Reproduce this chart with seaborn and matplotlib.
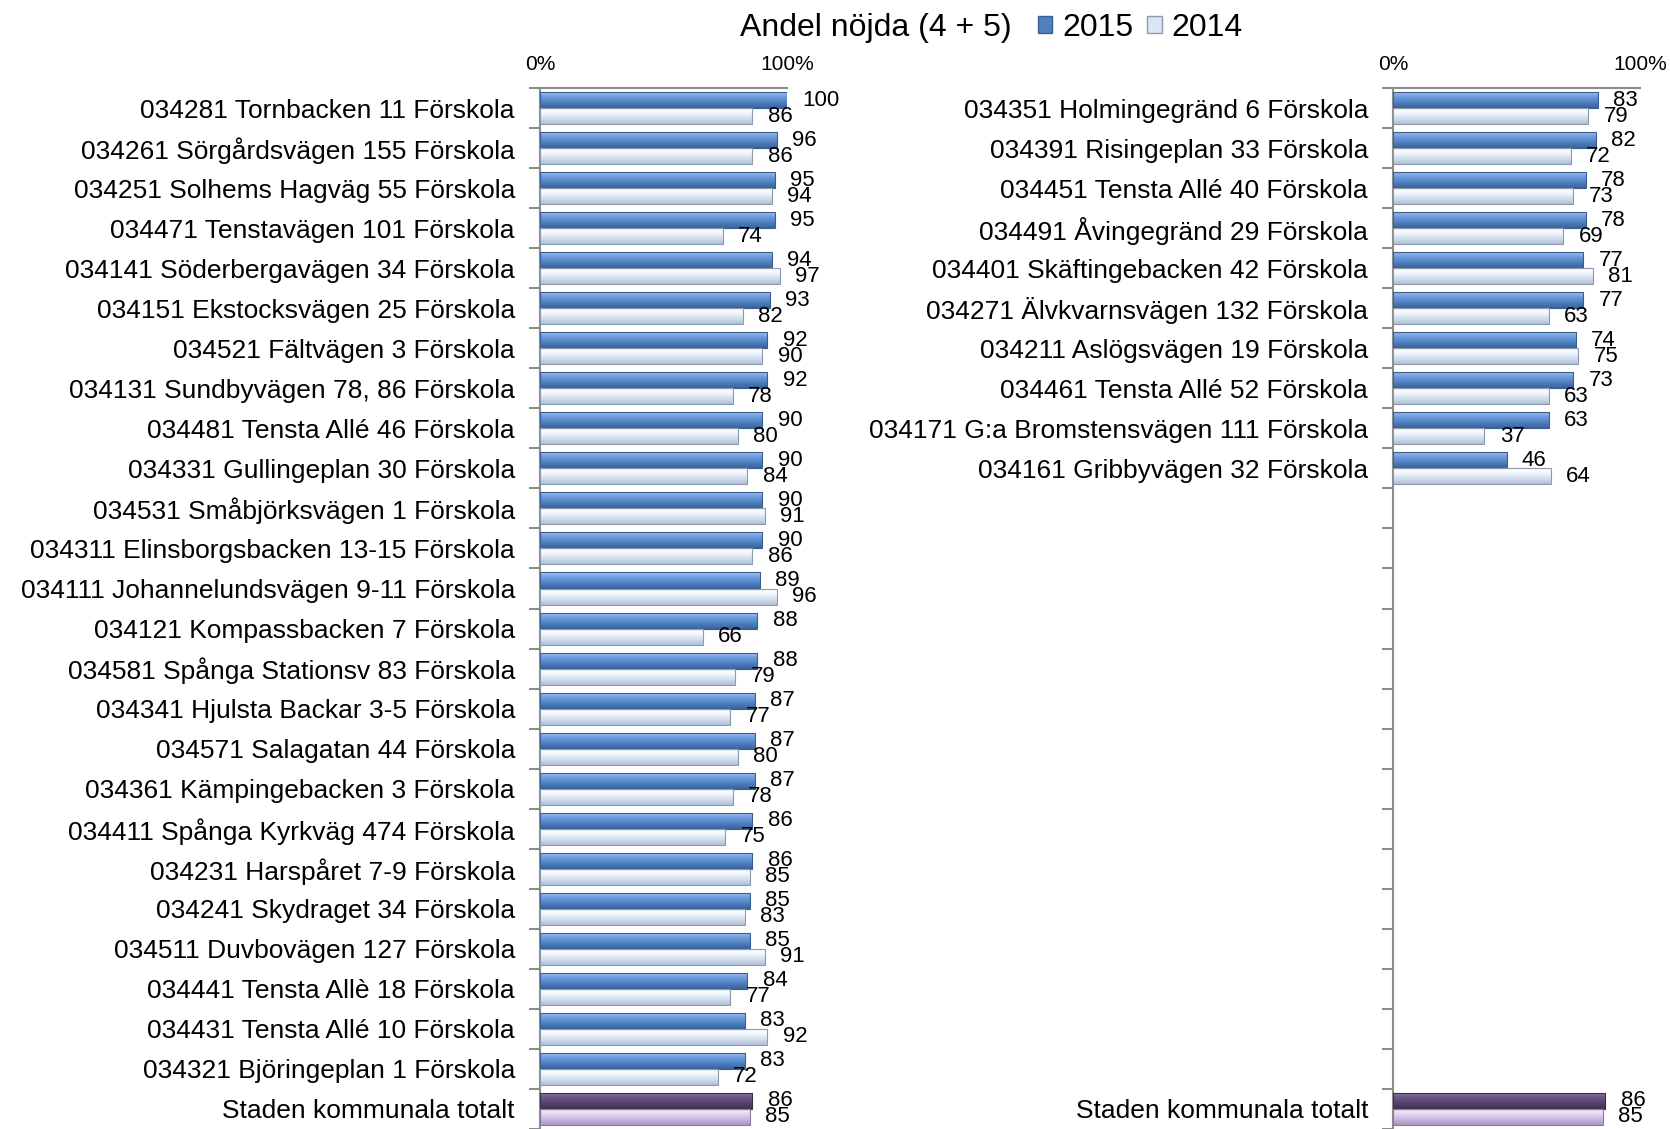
import numpy as np
import pandas as pd
import matplotlib
matplotlib.use("Agg")
import matplotlib.pyplot as plt
import matplotlib.colors as mcolors
from matplotlib.patches import Patch
import seaborn as sns

# -----------------------------------------------
# Data
# -----------------------------------------------

left_names = [
    "034281 Tornbacken 11 Förskola",
    "034261 Sörgårdsvägen 155 Förskola",
    "034251 Solhems Hagväg 55 Förskola",
    "034471 Tenstavägen 101 Förskola",
    "034141 Söderbergavägen 34 Förskola",
    "034151 Ekstocksvägen 25 Förskola",
    "034521 Fältvägen 3 Förskola",
    "034131 Sundbyvägen 78, 86 Förskola",
    "034481 Tensta Allé 46 Förskola",
    "034331 Gullingeplan 30 Förskola",
    "034531 Småbjörksvägen 1 Förskola",
    "034311 Elinsborgsbacken 13-15 Förskola",
    "034111 Johannelundsvägen 9-11 Förskola",
    "034121 Kompassbacken 7 Förskola",
    "034581 Spånga Stationsv 83 Förskola",
    "034341 Hjulsta Backar 3-5 Förskola",
    "034571 Salagatan 44 Förskola",
    "034361 Kämpingebacken 3 Förskola",
    "034411 Spånga Kyrkväg 474 Förskola",
    "034231 Harspåret 7-9 Förskola",
    "034241 Skydraget 34 Förskola",
    "034511 Duvbovägen 127 Förskola",
    "034441 Tensta Allè 18 Förskola",
    "034431 Tensta Allé 10 Förskola",
    "034321 Björingeplan 1 Förskola",
    "Staden kommunala totalt",
]
left_2015 = [100, 96, 95, 95, 94, 93, 92, 92, 90, 90, 90, 90, 89, 88, 88,
             87, 87, 87, 86, 86, 85, 85, 84, 83, 83, 86]
left_2014 = [86, 86, 94, 74, 97, 82, 90, 78, 80, 84, 91, 86, 96, 66, 79,
             77, 80, 78, 75, 85, 83, 91, 77, 92, 72, 85]

right_names = [
    "034351 Holmingegränd 6 Förskola",
    "034391 Risingeplan 33 Förskola",
    "034451 Tensta Allé 40 Förskola",
    "034491 Åvingegränd 29 Förskola",
    "034401 Skäftingebacken 42 Förskola",
    "034271 Älvkvarnsvägen 132 Förskola",
    "034211 Aslögsvägen 19 Förskola",
    "034461 Tensta Allé 52 Förskola",
    "034171 G:a Bromstensvägen 111 Förskola",
    "034161 Gribbyvägen 32 Förskola",
    "Staden kommunala totalt",
]
right_2015 = [83, 82, 78, 78, 77, 77, 74, 73, 63, 46, 86]
right_2014 = [79, 72, 73, 69, 81, 63, 75, 63, 37, 64, 85]

years = ["2015", "2014"]
total_name = "Staden kommunala totalt"
n_rows = len(left_names)

# empty slots on the right panel so both panels have the same rows
right_order = right_names[:-1] + [" " * (i + 1) for i in range(n_rows - len(right_names))] + [total_name]


def to_long(names, v15, v14):
    df = pd.DataFrame({"name": names, "2015": v15, "2014": v14})
    return df.melt(id_vars="name", var_name="year", value_name="value")


df_left = to_long(left_names, left_2015, left_2014)
df_right = to_long(right_names, right_2015, right_2014)

# gradient colours (top -> bottom) for the bevelled Excel look
grad_colors = {
    ("school", "2015"): ["#a9c6ee", "#6d9be0", "#4f81bd", "#3a629c"],
    ("school", "2014"): ["#ffffff", "#f4f8fd", "#d3dfee", "#aebfd6"],
    ("total", "2015"): ["#8f7aa8", "#6b5686", "#54416d", "#3f3151"],
    ("total", "2014"): ["#f4ecfd", "#e6d9f5", "#c9b8dd", "#a895c0"],
}
edge_colors = {
    ("school", "2015"): "#3a5f8f",
    ("school", "2014"): "#8a9bb0",
    ("total", "2015"): "#3a2c4c",
    ("total", "2014"): "#8a7aa0",
}

sns.set_style("white")
plt.rcParams["font.family"] = ["Liberation Sans", "DejaVu Sans"]
plt.rcParams["text.color"] = "black"
plt.rcParams["xtick.color"] = "black"
plt.rcParams["ytick.color"] = "black"

fig = plt.figure(figsize=(16.7, 11.29), dpi=100)
ax_left = fig.add_axes([540 / 1670, 0.0, 247 / 1670, 0.922])
ax_right = fig.add_axes([1393 / 1670, 0.0, 247 / 1670, 0.922])


def draw_panel(ax, df, order):
    sns.barplot(data=df, x="value", y="name", hue="year", order=order,
                hue_order=years, orient="h", width=0.8, ax=ax,
                legend=False, errorbar=None)
    ylim = (n_rows - 0.5, -0.5)
    for cont, year in zip(ax.containers, years):
        labels = []
        for bar in cont:
            w = bar.get_width()
            yc = bar.get_y() + bar.get_height() / 2
            kind = "total" if round(yc) == n_rows - 1 else "school"
            cols = grad_colors[(kind, year)]
            bar.set_facecolor(cols[2])
            bar.set_edgecolor(edge_colors[(kind, year)])
            bar.set_linewidth(0.8)
            cmap = mcolors.LinearSegmentedColormap.from_list("g", cols)
            grad = np.linspace(0, 1, 64).reshape(-1, 1)
            im = ax.imshow(grad, cmap=cmap, aspect="auto", origin="upper",
                           extent=(0, w, bar.get_y() + bar.get_height(), bar.get_y()),
                           zorder=bar.get_zorder() + 0.1, interpolation="bicubic")
            im.set_clip_path(bar)
            labels.append(f"{w:.0f}")
        ax.bar_label(cont, labels=labels, padding=11, fontsize=16, color="black")
    # outline on top of the gradients
    for cont in ax.containers:
        for bar in cont:
            bar.set_zorder(3)
            bar.set_facecolor("none")
    ax.set_xlim(0, 100)
    ax.set_ylim(*ylim)
    ax.set_xlabel("")
    ax.set_ylabel("")
    ax.xaxis.tick_top()
    ax.set_xticks([0, 100])
    ax.set_xticklabels(["0%", "100%"], fontsize=15)
    ax.tick_params(axis="x", length=0, pad=10)
    ax.set_yticks(range(n_rows))
    ax.set_yticklabels([o if o.strip() else "" for o in order], fontsize=19)
    ax.set_yticks(np.arange(-0.5, n_rows, 1), minor=True)
    ax.tick_params(axis="y", which="major", length=0, pad=18, left=False)
    ax.tick_params(axis="y", which="minor", length=8, color="#8c8c8c",
                   width=1.5, left=True, direction="out")
    for side in ["right", "bottom"]:
        ax.spines[side].set_visible(False)
    for side in ["top", "left"]:
        ax.spines[side].set_color("#8c8c8c")
        ax.spines[side].set_linewidth(1.5)
    ax.grid(False)


draw_panel(ax_left, df_left, left_names)
draw_panel(ax_right, df_right, right_order)

# -----------------------------------------------
# Title and legend
# -----------------------------------------------

fig.text(740 / 1670, 1 - 28 / 1129, "Andel nöjda (4 + 5)", fontsize=23,
         ha="left", va="center", color="black")
handles = [Patch(facecolor="#4f81bd", edgecolor="#3a5f8f"),
           Patch(facecolor="#dce6f2", edgecolor="#8a9bb0")]
fig.legend(handles, years, loc="center left", ncol=2, frameon=False,
           bbox_to_anchor=(1038 / 1670, 1 - 28 / 1129), fontsize=23,
           handlelength=0.45, handleheight=0.45, handletextpad=0.3,
           columnspacing=0.45, borderaxespad=0, borderpad=0)

fig.savefig("out.png", dpi=100)
